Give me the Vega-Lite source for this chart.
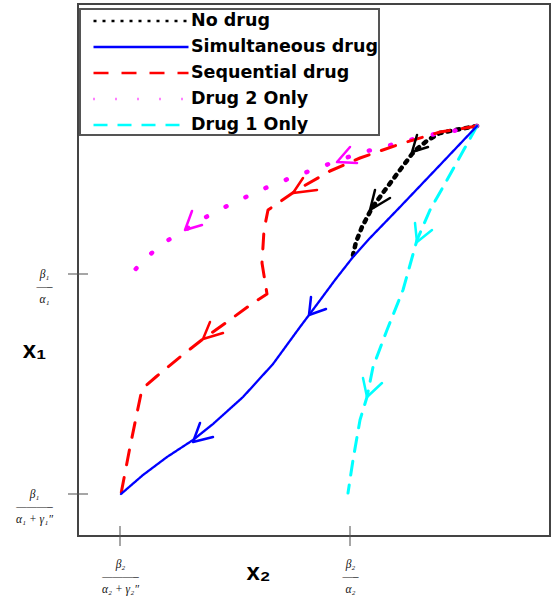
{
  "$schema": "https://vega.github.io/schema/vega-lite/v6.json",
  "width": 472,
  "height": 532,
  "autosize": {"type": "none"},
  "padding": {"left": 78, "top": 4, "right": 4, "bottom": 63},
  "background": "white",
  "config": {
    "view": {"stroke": "#444", "strokeWidth": 2},
    "legend": {"strokeWidth": 2}
  },
  "datasets": {
    "curves": [
      {"s": "No drug", "o": 0, "x2": 399, "x1": 410},
      {"s": "No drug", "o": 1, "x2": 377, "x1": 406},
      {"s": "No drug", "o": 2, "x2": 362, "x1": 403},
      {"s": "No drug", "o": 3, "x2": 350, "x1": 396},
      {"s": "No drug", "o": 4, "x2": 340, "x1": 388},
      {"s": "No drug", "o": 5, "x2": 334, "x1": 382},
      {"s": "No drug", "o": 6, "x2": 322, "x1": 366},
      {"s": "No drug", "o": 7, "x2": 307, "x1": 346},
      {"s": "No drug", "o": 8, "x2": 294, "x1": 328},
      {"s": "No drug", "o": 9, "x2": 284, "x1": 309},
      {"s": "No drug", "o": 10, "x2": 278, "x1": 294},
      {"s": "No drug", "o": 11, "x2": 275, "x1": 281},
      {"s": "Simultaneous drug", "o": 0, "x2": 399, "x1": 410},
      {"s": "Simultaneous drug", "o": 1, "x2": 362, "x1": 371},
      {"s": "Simultaneous drug", "o": 2, "x2": 322, "x1": 329},
      {"s": "Simultaneous drug", "o": 3, "x2": 292, "x1": 298},
      {"s": "Simultaneous drug", "o": 4, "x2": 275, "x1": 279},
      {"s": "Simultaneous drug", "o": 5, "x2": 257, "x1": 256},
      {"s": "Simultaneous drug", "o": 6, "x2": 240, "x1": 233},
      {"s": "Simultaneous drug", "o": 7, "x2": 222, "x1": 209},
      {"s": "Simultaneous drug", "o": 8, "x2": 195, "x1": 172},
      {"s": "Simultaneous drug", "o": 9, "x2": 165, "x1": 139},
      {"s": "Simultaneous drug", "o": 10, "x2": 135, "x1": 112},
      {"s": "Simultaneous drug", "o": 11, "x2": 115, "x1": 96},
      {"s": "Simultaneous drug", "o": 12, "x2": 89, "x1": 79},
      {"s": "Simultaneous drug", "o": 13, "x2": 65, "x1": 61},
      {"s": "Simultaneous drug", "o": 14, "x2": 43, "x1": 42},
      {"s": "Sequential drug", "o": 0, "x2": 399, "x1": 410},
      {"s": "Sequential drug", "o": 1, "x2": 362, "x1": 404},
      {"s": "Sequential drug", "o": 2, "x2": 322, "x1": 392},
      {"s": "Sequential drug", "o": 3, "x2": 282, "x1": 378},
      {"s": "Sequential drug", "o": 4, "x2": 252, "x1": 365},
      {"s": "Sequential drug", "o": 5, "x2": 219, "x1": 346},
      {"s": "Sequential drug", "o": 6, "x2": 190, "x1": 326},
      {"s": "Sequential drug", "o": 7, "x2": 186, "x1": 306},
      {"s": "Sequential drug", "o": 8, "x2": 184, "x1": 273},
      {"s": "Sequential drug", "o": 9, "x2": 189, "x1": 242},
      {"s": "Sequential drug", "o": 10, "x2": 175, "x1": 233},
      {"s": "Sequential drug", "o": 11, "x2": 149, "x1": 214},
      {"s": "Sequential drug", "o": 12, "x2": 125, "x1": 197},
      {"s": "Sequential drug", "o": 13, "x2": 102, "x1": 179},
      {"s": "Sequential drug", "o": 14, "x2": 79, "x1": 160},
      {"s": "Sequential drug", "o": 15, "x2": 64, "x1": 147},
      {"s": "Sequential drug", "o": 16, "x2": 59, "x1": 123},
      {"s": "Sequential drug", "o": 17, "x2": 52, "x1": 89},
      {"s": "Sequential drug", "o": 18, "x2": 43, "x1": 42},
      {"s": "Drug 2 Only", "o": 0, "x2": 399, "x1": 410},
      {"s": "Drug 2 Only", "o": 1, "x2": 375, "x1": 405},
      {"s": "Drug 2 Only", "o": 2, "x2": 352, "x1": 401},
      {"s": "Drug 2 Only", "o": 3, "x2": 328, "x1": 395},
      {"s": "Drug 2 Only", "o": 4, "x2": 305, "x1": 389},
      {"s": "Drug 2 Only", "o": 5, "x2": 282, "x1": 383},
      {"s": "Drug 2 Only", "o": 6, "x2": 259, "x1": 375},
      {"s": "Drug 2 Only", "o": 7, "x2": 237, "x1": 367},
      {"s": "Drug 2 Only", "o": 8, "x2": 215, "x1": 359},
      {"s": "Drug 2 Only", "o": 9, "x2": 192, "x1": 350},
      {"s": "Drug 2 Only", "o": 10, "x2": 170, "x1": 340},
      {"s": "Drug 2 Only", "o": 11, "x2": 149, "x1": 330},
      {"s": "Drug 2 Only", "o": 12, "x2": 128, "x1": 319},
      {"s": "Drug 2 Only", "o": 13, "x2": 107, "x1": 306},
      {"s": "Drug 2 Only", "o": 14, "x2": 87, "x1": 294},
      {"s": "Drug 2 Only", "o": 15, "x2": 69, "x1": 279},
      {"s": "Drug 2 Only", "o": 16, "x2": 53, "x1": 262},
      {"s": "Drug 1 Only", "o": 0, "x2": 399, "x1": 410},
      {"s": "Drug 1 Only", "o": 1, "x2": 384, "x1": 383},
      {"s": "Drug 1 Only", "o": 2, "x2": 369, "x1": 356},
      {"s": "Drug 1 Only", "o": 3, "x2": 352, "x1": 326},
      {"s": "Drug 1 Only", "o": 4, "x2": 339, "x1": 296},
      {"s": "Drug 1 Only", "o": 5, "x2": 325, "x1": 246},
      {"s": "Drug 1 Only", "o": 6, "x2": 309, "x1": 206},
      {"s": "Drug 1 Only", "o": 7, "x2": 295, "x1": 169},
      {"s": "Drug 1 Only", "o": 8, "x2": 289, "x1": 139},
      {"s": "Drug 1 Only", "o": 9, "x2": 282, "x1": 116},
      {"s": "Drug 1 Only", "o": 10, "x2": 275, "x1": 76},
      {"s": "Drug 1 Only", "o": 11, "x2": 270, "x1": 43}
    ],
    "arrows": [
      {"s": "No drug", "a": "b1", "o": 0, "x2": 339, "x1": 401},
      {"s": "No drug", "a": "b1", "o": 1, "x2": 334, "x1": 384},
      {"s": "No drug", "a": "b1", "o": 2, "x2": 350, "x1": 389},
      {"s": "No drug", "a": "b2", "o": 0, "x2": 297, "x1": 346},
      {"s": "No drug", "a": "b2", "o": 1, "x2": 292, "x1": 326},
      {"s": "No drug", "a": "b2", "o": 2, "x2": 312, "x1": 338},
      {"s": "Sequential drug", "a": "r1", "o": 0, "x2": 225, "x1": 358},
      {"s": "Sequential drug", "a": "r1", "o": 1, "x2": 215, "x1": 343},
      {"s": "Sequential drug", "a": "r1", "o": 2, "x2": 239, "x1": 346},
      {"s": "Sequential drug", "a": "r2", "o": 0, "x2": 132, "x1": 214},
      {"s": "Sequential drug", "a": "r2", "o": 1, "x2": 125, "x1": 197},
      {"s": "Sequential drug", "a": "r2", "o": 2, "x2": 145, "x1": 203},
      {"s": "Drug 2 Only", "a": "m1", "o": 0, "x2": 272, "x1": 389},
      {"s": "Drug 2 Only", "a": "m1", "o": 1, "x2": 259, "x1": 374},
      {"s": "Drug 2 Only", "a": "m1", "o": 2, "x2": 279, "x1": 373},
      {"s": "Drug 2 Only", "a": "m2", "o": 0, "x2": 114, "x1": 325},
      {"s": "Drug 2 Only", "a": "m2", "o": 1, "x2": 107, "x1": 306},
      {"s": "Drug 2 Only", "a": "m2", "o": 2, "x2": 124, "x1": 311},
      {"s": "Simultaneous drug", "a": "u1", "o": 0, "x2": 233, "x1": 239},
      {"s": "Simultaneous drug", "a": "u1", "o": 1, "x2": 231, "x1": 221},
      {"s": "Simultaneous drug", "a": "u1", "o": 2, "x2": 248, "x1": 227},
      {"s": "Simultaneous drug", "a": "u2", "o": 0, "x2": 122, "x1": 113},
      {"s": "Simultaneous drug", "a": "u2", "o": 1, "x2": 115, "x1": 94},
      {"s": "Simultaneous drug", "a": "u2", "o": 2, "x2": 135, "x1": 99},
      {"s": "Drug 1 Only", "a": "c1", "o": 0, "x2": 337, "x1": 313},
      {"s": "Drug 1 Only", "a": "c1", "o": 1, "x2": 339, "x1": 294},
      {"s": "Drug 1 Only", "a": "c1", "o": 2, "x2": 354, "x1": 306},
      {"s": "Drug 1 Only", "a": "c2", "o": 0, "x2": 285, "x1": 158},
      {"s": "Drug 1 Only", "a": "c2", "o": 1, "x2": 289, "x1": 139},
      {"s": "Drug 1 Only", "a": "c2", "o": 2, "x2": 304, "x1": 153}
    ],
    "xticks": [{"x2": 42}, {"x2": 272}],
    "yticks": [{"x1": 42}, {"x1": 262}]
  },
  "layer": [
    {
      "data": {"name": "curves"},
      "transform": [{"filter": "datum.s === 'No drug' || datum.s === 'Drug 2 Only'"}],
      "mark": {"type": "line", "strokeCap": "round", "strokeJoin": "round", "strokeWidth": 4.5},
      "encoding": {
        "x": {
          "field": "x2", "type": "quantitative",
          "scale": {"domain": [0, 472], "nice": false, "zero": false},
          "axis": {
            "values": [42, 272], "ticks": false, "tickSize": 0, "domain": false, "grid": false,
            "labelExpr": "datum.value < 100 ? ['β₂', '———–', 'α₂ + γ₂″'] : ['β₂', '—–', 'α₂']",
            "labelFont": "Liberation Serif", "labelFontStyle": "italic", "labelFontSize": 11.5,
            "labelLineHeight": 12.5, "labelPadding": 22, "labelColor": "#111",
            "labelAlign": "center", "labelBaseline": "top",
            "labelOverlap": false, "labelFlush": false, "labelBound": false,
            "title": "x₂", "titleFont": "Liberation Sans", "titleFontWeight": "bold",
            "titleFontSize": 24, "titleColor": "black", "titleX": 180, "titleY": 36,
            "titleAlign": "center", "titleBaseline": "middle"
          }
        },
        "y": {
          "field": "x1", "type": "quantitative",
          "scale": {"domain": [0, 532], "nice": false, "zero": false},
          "axis": {
            "values": [42, 262], "ticks": false, "tickSize": 0, "domain": false, "grid": false,
            "labelExpr": "datum.value < 100 ? ['β₁', '———–', 'α₁ + γ₁″'] : ['β₁', '—–', 'α₁']",
            "labelFont": "Liberation Serif", "labelFontStyle": "italic", "labelFontSize": 11.5,
            "labelLineHeight": 12.5, "labelColor": "#111",
            "labelPadding": {"condition": {"test": "datum.value < 100", "value": 44}, "value": 34},
            "labelAlign": "center", "labelBaseline": "middle",
            "labelOverlap": false, "labelFlush": false, "labelBound": false,
            "title": "x₁", "titleFont": "Liberation Sans", "titleFontWeight": "bold",
            "titleFontSize": 24, "titleColor": "black", "titleAngle": 0, "titleX": -44, "titleY": 346,
            "titleAlign": "center", "titleBaseline": "middle"
          }
        },
        "order": {"field": "o", "type": "quantitative"},
        "color": {
          "field": "s", "type": "nominal",
          "scale": {
            "domain": ["No drug", "Simultaneous drug", "Sequential drug", "Drug 2 Only", "Drug 1 Only"],
            "range": ["#000000", "#0000ff", "#ff0000", "#ff00ff", "#00ffff"]
          },
          "legend": {
            "title": null, "orient": "none", "legendX": 2, "legendY": 5,
            "symbolType": "M-5,0H5", "symbolSize": 361, "symbolStrokeWidth": 2.5,
            "symbolOffset": 49, "padding": 1, "rowPadding": 6, "labelOffset": 39,
            "labelFont": "DejaVu Sans", "labelFontWeight": "bold", "labelFontSize": 17.5,
            "labelColor": "black", "strokeColor": "#555", "fillColor": "white", "labelLimit": 400
          }
        },
        "strokeDash": {
          "field": "s", "type": "nominal",
          "scale": {
            "domain": ["No drug", "Simultaneous drug", "Sequential drug", "Drug 2 Only", "Drug 1 Only"],
            "range": [[3, 6], [1, 0], [15, 13], [1, 21], [14, 10]]
          }
        }
      }
    },
    {
      "data": {"name": "curves"},
      "transform": [{"filter": "datum.s === 'Sequential drug' || datum.s === 'Drug 1 Only'"}],
      "mark": {"type": "line", "strokeCap": "round", "strokeJoin": "round", "strokeWidth": 3},
      "encoding": {
        "x": {"field": "x2", "type": "quantitative"},
        "y": {"field": "x1", "type": "quantitative"},
        "order": {"field": "o", "type": "quantitative"},
        "color": {"field": "s", "type": "nominal"},
        "strokeDash": {"field": "s", "type": "nominal"}
      }
    },
    {
      "data": {"name": "curves"},
      "transform": [{"filter": "datum.s === 'Simultaneous drug'"}],
      "mark": {"type": "line", "strokeCap": "round", "strokeJoin": "round", "strokeWidth": 2.3},
      "encoding": {
        "x": {"field": "x2", "type": "quantitative"},
        "y": {"field": "x1", "type": "quantitative"},
        "order": {"field": "o", "type": "quantitative"},
        "color": {"field": "s", "type": "nominal"},
        "strokeDash": {"field": "s", "type": "nominal"}
      }
    },
    {
      "data": {"name": "arrows"},
      "mark": {"type": "line", "strokeWidth": 2.5, "strokeCap": "round", "strokeJoin": "round"},
      "encoding": {
        "x": {"field": "x2", "type": "quantitative"},
        "y": {"field": "x1", "type": "quantitative"},
        "detail": {"field": "a", "type": "nominal"},
        "order": {"field": "o", "type": "quantitative"},
        "color": {"field": "s", "type": "nominal"}
      }
    },
    {
      "data": {"name": "xticks"},
      "mark": {"type": "tick", "orient": "vertical", "size": 20, "thickness": 1.5, "color": "#555"},
      "encoding": {
        "x": {"field": "x2", "type": "quantitative"},
        "y": {"datum": 0}
      }
    },
    {
      "data": {"name": "yticks"},
      "mark": {"type": "tick", "orient": "horizontal", "size": 20, "thickness": 1.5, "color": "#555"},
      "encoding": {
        "y": {"field": "x1", "type": "quantitative"},
        "x": {"datum": 0}
      }
    }
  ]
}
